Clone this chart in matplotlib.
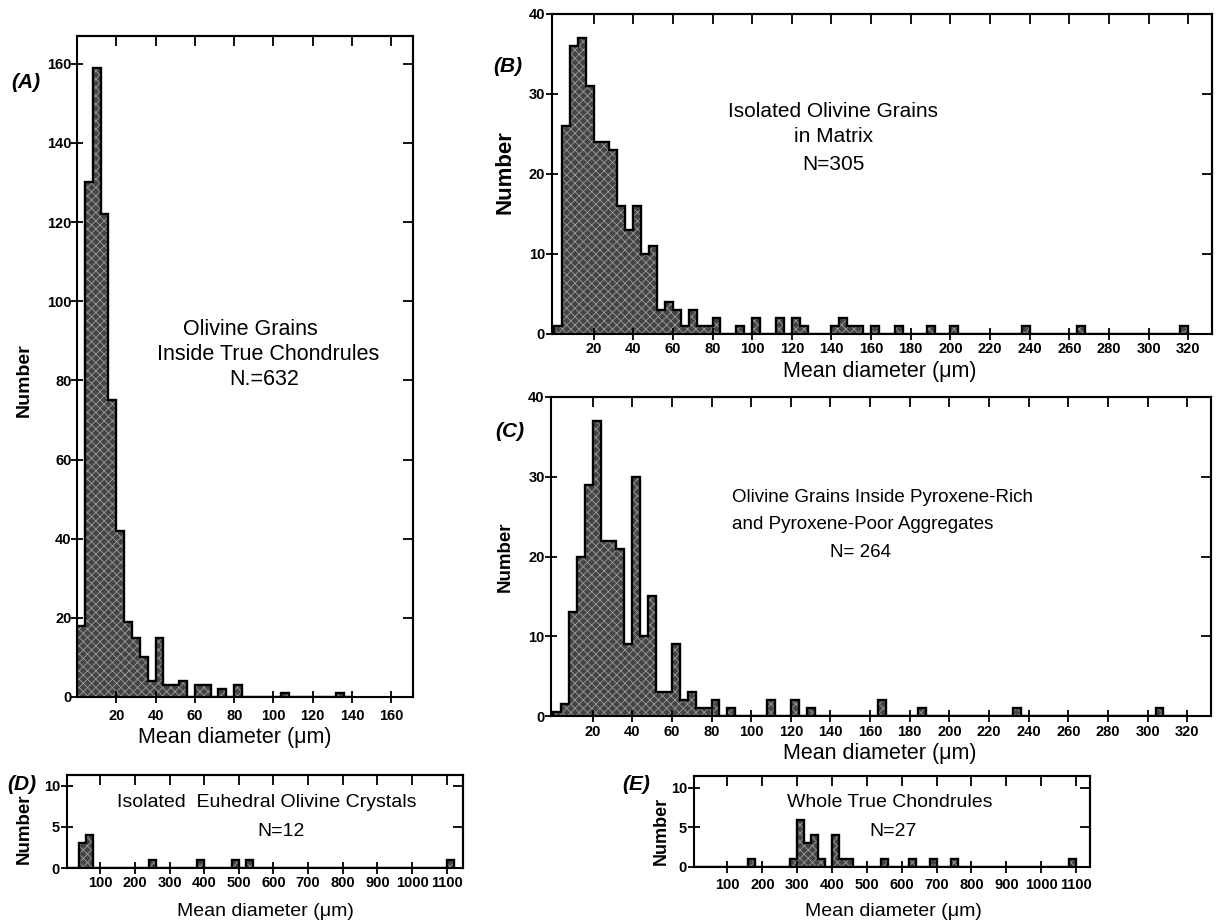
import matplotlib
matplotlib.use("Agg")
import matplotlib.pyplot as plt
import numpy as np

# ------------------------------------------------------------
# Dati (bordo sinistro del bin in um, conteggio)
# ------------------------------------------------------------

a_width = 4
a_left = [0, 4, 8, 12, 16, 20, 24, 28, 32, 36, 40, 44, 48, 52,
          60, 64, 72, 80, 104, 132]
a_count = [18, 130, 159, 122, 75, 42, 19, 15, 10, 4, 15, 3, 3, 4,
           3, 3, 2, 3, 1, 1]

b_width = 4
b_left = [0, 4, 8, 12, 16, 20, 24, 28, 32, 36, 40, 44, 48, 52, 56, 60,
          64, 68, 72, 76, 80, 92, 100, 112, 120, 124, 140, 144, 148, 152,
          160, 172, 188, 200, 236, 264, 316]
b_count = [1, 26, 36, 37, 31, 24, 24, 23, 16, 13, 16, 10, 11, 3, 4, 3,
           1, 3, 1, 1, 2, 1, 2, 2, 2, 1, 1, 2, 1, 1,
           1, 1, 1, 1, 1, 1, 1]

c_width = 4
c_left = [0, 4, 8, 12, 16, 20, 24, 28, 32, 36, 40, 44, 48, 52, 56, 60,
          64, 68, 72, 76, 80, 88, 108, 120, 128, 164, 184, 232, 304]
c_count = [0.5, 1.5, 13, 20, 29, 37, 22, 22, 21, 9, 30, 10, 15, 3, 3, 9,
           2, 3, 1, 1, 2, 1, 2, 2, 1, 2, 1, 1, 1]

d_width = 20
d_left = [40, 60, 240, 380, 480, 520, 1100]
d_count = [3, 4, 1, 1, 1, 1, 1]

e_width = 20
e_left = [160, 280, 300, 320, 340, 360, 400, 420, 440, 540, 620, 680,
          740, 1080]
e_count = [1, 1, 6, 3, 4, 1, 4, 1, 1, 1, 1, 1, 1, 1]


# ------------------------------------------------------------
# Stile
# ------------------------------------------------------------

W, H = 1217, 923
FILL = "#454545"
HATCH = "#9c9c9c"

plt.rcParams["font.family"] = ["Liberation Sans", "DejaVu Sans"]
plt.rcParams["hatch.linewidth"] = 0.6


def rect(left, top, right, bottom):
    return [left / W, 1 - bottom / H, (right - left) / W, (bottom - top) / H]


def fig_text(fig, x, y, text, **kwargs):
    fig.text(x / W, 1 - y / H, text, ha="center", va="center", **kwargs)


def draw_hist(ax, left, count, width, x_max):
    edges = np.arange(0, x_max + width, width)
    values = np.zeros(len(edges) - 1)
    values[(np.asarray(left) // width).astype(int)] = count
    ax.stairs(values, edges, fill=True, facecolor=FILL,
              edgecolor=HATCH, hatch="xxxx", linewidth=0)
    ax.stairs(values, edges, color="black", linewidth=1.7)


def style_axes(ax, xlim, ylim, xticks, yticks, xpad, ypad):
    ax.set_xlim(xlim)
    ax.set_ylim(ylim)
    ax.set_xticks(xticks)
    ax.set_yticks(yticks)
    ax.tick_params(direction="inout", length=8, width=1.3, labelsize=10.5)
    ax.tick_params(axis="x", pad=xpad)
    ax.tick_params(axis="y", pad=ypad)
    for label in ax.get_xticklabels() + ax.get_yticklabels():
        label.set_fontweight("bold")
    for spine in ax.spines.values():
        spine.set_linewidth(1.5)

    top = ax.secondary_xaxis("top")
    top.set_xticks(xticks)
    top.tick_params(direction="in", length=7, width=1.3, labeltop=False)
    top.spines["top"].set_linewidth(1.5)

    right = ax.secondary_yaxis("right")
    right.set_yticks([t for t in yticks if t > 0])
    right.tick_params(direction="in", length=7, width=1.3, labelright=False)
    right.spines["right"].set_linewidth(1.5)


fig = plt.figure(figsize=(W / 100, H / 100), dpi=100)

# ------------------------------------------------------------
# (A)
# ------------------------------------------------------------

ax_a = fig.add_axes(rect(77, 36, 413, 697))
draw_hist(ax_a, a_left, a_count, a_width, 140)
style_axes(ax_a, (0, 171), (0, 167), np.arange(20, 161, 20),
           np.arange(0, 161, 20), 5, 0)
ax_a.text(88.4, 92.9, "Olivine Grains", ha="center", va="center", fontsize=15.5)
ax_a.text(97.5, 86.6, "Inside True Chondrules", ha="center", va="center",
          fontsize=15.5)
ax_a.text(95.4, 80.3, "N.=632", ha="center", va="center", fontsize=15.5)
fig_text(fig, 26, 83, "(A)", fontsize=15, fontweight="bold", style="italic")
fig_text(fig, 24, 380, "Number", fontsize=14, fontweight="bold", rotation=90)
fig_text(fig, 235, 738, "Mean diameter (μm)", fontsize=15.5)

# ------------------------------------------------------------
# (B)
# ------------------------------------------------------------

ax_b = fig.add_axes(rect(552, 14, 1212, 334))
draw_hist(ax_b, b_left, b_count, b_width, 320)
style_axes(ax_b, (-1, 332), (0, 40), np.arange(20, 321, 20),
           np.arange(0, 41, 10), 1.5, 1)
ax_b.text(140.6, 27.8, "Isolated Olivine Grains", ha="center", va="center",
          fontsize=15)
ax_b.text(141, 24.7, "in Matrix", ha="center", va="center", fontsize=15)
ax_b.text(141, 21.2, "N=305", ha="center", va="center", fontsize=15)
fig_text(fig, 508, 67, "(B)", fontsize=15, fontweight="bold", style="italic")
fig_text(fig, 505, 172, "Number", fontsize=16, fontweight="bold", rotation=90)
fig_text(fig, 880, 371, "Mean diameter (μm)", fontsize=15.5)

# ------------------------------------------------------------
# (C)
# ------------------------------------------------------------

ax_c = fig.add_axes(rect(551, 397, 1211, 716))
draw_hist(ax_c, c_left, c_count, c_width, 320)
style_axes(ax_c, (-1, 332), (0, 40), np.arange(20, 321, 20),
           np.arange(0, 41, 10), 2.5, 0.5)
ax_c.text(90.1, 27.4, "Olivine Grains Inside Pyroxene-Rich", ha="left",
          va="center", fontsize=13.5)
ax_c.text(90.1, 24.0, "and Pyroxene-Poor Aggregates", ha="left",
          va="center", fontsize=13.5)
ax_c.text(155.3, 20.5, "N= 264", ha="center", va="center", fontsize=13.5)
fig_text(fig, 510, 432, "(C)", fontsize=15, fontweight="bold", style="italic")
fig_text(fig, 505, 557, "Number", fontsize=13.5, fontweight="bold", rotation=90)
fig_text(fig, 880, 754, "Mean diameter (μm)", fontsize=15.5)

# ------------------------------------------------------------
# (D)
# ------------------------------------------------------------

ax_d = fig.add_axes(rect(67, 775, 463, 868))
draw_hist(ax_d, d_left, d_count, d_width, 1120)
style_axes(ax_d, (4, 1147), (0, 11.3), np.arange(100, 1101, 100),
           [0, 5, 10], 2, 1)
ax_d.text(580, 7.9, "Isolated  Euhedral Olivine Crystals", ha="center",
          va="center", fontsize=14)
ax_d.text(621, 4.4, "N=12", ha="center", va="center", fontsize=14)
fig_text(fig, 22, 785, "(D)", fontsize=15, fontweight="bold", style="italic")
fig_text(fig, 24, 829, "Number", fontsize=13.5, fontweight="bold", rotation=90)
fig_text(fig, 265, 912, "Mean diameter (μm)", fontsize=14)

# ------------------------------------------------------------
# (E)
# ------------------------------------------------------------

ax_e = fig.add_axes(rect(694, 776, 1090, 867))
draw_hist(ax_e, e_left, e_count, e_width, 1100)
style_axes(ax_e, (4, 1140), (0, 11.5), np.arange(100, 1101, 100),
           [0, 5, 10], 4, 1)
ax_e.text(565.7, 8.1, "Whole True Chondrules", ha="center", va="center",
          fontsize=14)
ax_e.text(574, 4.5, "N=27", ha="center", va="center", fontsize=14)
fig_text(fig, 636, 784, "(E)", fontsize=15, fontweight="bold", style="italic")
fig_text(fig, 661, 831, "Number", fontsize=13, fontweight="bold", rotation=90)
fig_text(fig, 893, 912, "Mean diameter (μm)", fontsize=14)

fig.savefig("out.png", dpi=100)
